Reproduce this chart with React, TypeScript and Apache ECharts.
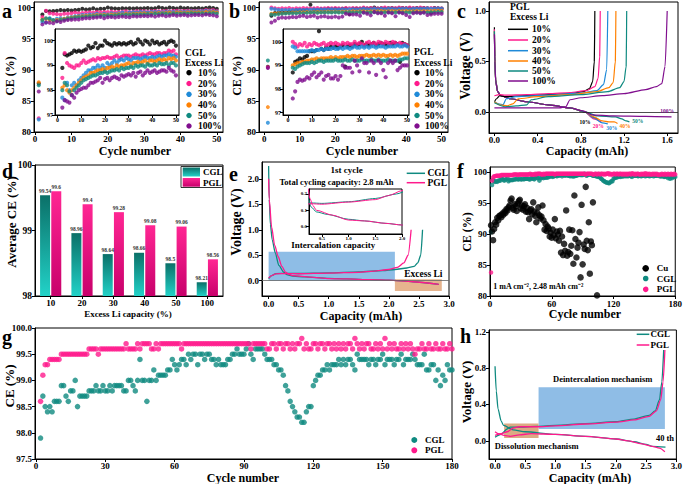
import React, { useEffect, useRef } from "react";
import * as echarts from "echarts";

const FONT = '"Liberation Serif","Times New Roman",serif';
const C_BLACK = "#000000";
const C_PINK = "#ff1a8c";
const C_BLUE = "#1f8ad8";
const C_ORANGE = "#ff8000";
const C_TEAL = "#0f8a80";
const C_PURPLE = "#800e8e";

const excessLabels = ["10%", "20%", "30%", "40%", "50%", "100%"];
const excessColors = [C_BLACK, C_PINK, C_BLUE, C_ORANGE, C_TEAL, C_PURPLE];

// ---------- panel a : CGL, CE (%) for cycles 1..50 ----------
const a10 = [87.8, 98.9, 99.45, 99.4, 99.45, 99.5, 99.6, 99.55, 99.6, 99.55, 99.6, 99.65, 99.8, 99.7, 99.75, 99.9, 99.7, 99.8, 99.8, 100.0, 99.9, 99.85, 99.8, 99.9, 99.85, 99.9, 99.85, 99.9, 99.85, 99.9, 99.95, 99.85, 99.9, 100.05, 99.95, 99.85, 100.0, 99.95, 99.85, 100.0, 99.9, 99.95, 99.85, 99.9, 99.95, 99.85, 99.95, 100.0, 99.95, 99.8];
const a20 = [82.2, 98.5, 99.5, 99.1, 99.0, 98.95, 98.9, 99.0, 99.0, 99.1, 99.2, 99.1, 99.15, 99.2, 99.25, 99.2, 99.3, 99.25, 99.3, 99.3, 99.35, 99.3, 99.3, 99.35, 99.4, 99.3, 99.35, 99.4, 99.4, 99.4, 99.35, 99.4, 99.45, 99.4, 99.4, 99.45, 99.4, 99.45, 99.5, 99.45, 99.45, 99.5, 99.5, 99.45, 99.5, 99.5, 99.6, 99.55, 99.6, 99.45];
const a30 = [82.0, 97.7, 97.6, 98.3, 98.0, 98.2, 98.3, 98.2, 98.4, 98.5, 98.6, 98.7, 98.8, 98.8, 98.9, 98.9, 99.0, 98.9, 99.0, 98.9, 99.1, 99.0, 99.1, 99.2, 99.1, 99.2, 99.25, 99.2, 99.3, 99.25, 99.2, 99.3, 99.3, 99.3, 99.25, 99.3, 99.35, 99.3, 99.3, 99.35, 99.3, 99.35, 99.4, 99.35, 99.4, 99.4, 99.45, 99.4, 99.4, 99.35];
const a40 = [88.0, 98.1, 98.2, 98.0, 97.9, 98.0, 98.1, 98.2, 98.3, 98.4, 98.5, 98.55, 98.6, 98.7, 98.7, 98.75, 98.8, 98.8, 98.85, 98.8, 98.9, 98.9, 98.95, 98.9, 99.0, 98.95, 99.0, 99.0, 99.05, 99.1, 99.0, 99.1, 99.1, 99.15, 99.1, 99.15, 99.2, 99.1, 99.2, 99.2, 99.15, 99.2, 99.25, 99.2, 99.25, 99.2, 99.3, 99.25, 99.3, 99.2];
const a50 = [87.5, 98.0, 98.3, 98.2, 97.95, 97.8, 98.0, 98.1, 98.2, 98.3, 98.4, 98.45, 98.5, 98.55, 98.6, 98.6, 98.65, 98.7, 98.7, 98.75, 98.7, 98.75, 98.8, 98.8, 98.85, 98.8, 98.9, 98.85, 98.9, 98.9, 98.95, 98.9, 99.0, 98.95, 99.0, 99.0, 98.95, 99.05, 99.0, 99.0, 99.05, 99.0, 99.1, 99.05, 99.05, 99.1, 99.0, 99.1, 99.1, 99.0];
const a100 = [86.5, 97.3, 97.6, 97.55, 97.5, 97.8, 97.7, 97.9, 98.0, 98.05, 98.1, 98.1, 98.2, 98.3, 98.3, 98.35, 98.4, 98.5, 98.3, 98.45, 98.5, 98.4, 98.5, 98.55, 98.5, 98.45, 98.6, 98.55, 98.6, 98.65, 98.6, 98.7, 98.55, 98.7, 98.75, 98.6, 98.7, 98.8, 98.7, 98.75, 98.8, 98.7, 98.75, 98.8, 98.8, 98.75, 98.9, 98.8, 98.75, 98.6];

// ---------- panel b : PGL, CE (%) for cycles 1..50 ----------
const b10 = [90.5, 98.7, 99.15, 99.2, 99.3, 99.25, 99.35, 99.4, 99.6, 99.6, 99.6, 99.65, 100.45, 99.7, 99.65, 99.75, 99.7, 99.8, 99.75, 99.8, 99.75, 99.8, 99.85, 98.95, 99.8, 99.85, 99.8, 99.9, 99.85, 99.9, 100.0, 99.85, 99.9, 99.85, 99.9, 99.95, 99.85, 99.9, 99.95, 99.9, 99.9, 99.85, 99.95, 99.9, 99.95, 99.9, 99.15, 99.95, 99.9, 99.85];
const b20 = [90.4, 100.0, 99.9, 99.8, 99.9, 99.85, 99.95, 99.8, 99.9, 99.85, 99.95, 99.9, 99.85, 99.9, 99.95, 99.85, 99.9, 99.95, 99.9, 99.95, 99.9, 99.85, 99.95, 99.9, 99.95, 99.9, 99.9, 100.0, 99.9, 99.95, 99.9, 99.85, 99.95, 100.0, 99.9, 99.95, 99.9, 100.0, 99.95, 99.9, 100.0, 99.95, 99.9, 100.0, 99.95, 99.9, 99.95, 99.9, 99.9, 99.85];
const b30 = [81.5, 99.8, 99.75, 99.6, 99.6, 99.6, 99.6, 99.6, 99.6, 99.65, 99.6, 99.65, 99.65, 99.7, 99.65, 99.7, 99.7, 99.7, 99.75, 99.7, 99.7, 99.75, 99.7, 99.75, 99.75, 99.7, 99.75, 99.8, 99.75, 99.75, 99.8, 99.75, 99.8, 99.75, 99.8, 99.8, 99.75, 99.8, 99.8, 99.8, 99.75, 99.8, 99.8, 99.8, 99.8, 99.85, 99.8, 99.8, 99.85, 99.8];
const b40 = [84.0, 99.0, 99.05, 99.1, 99.1, 99.15, 99.15, 99.2, 99.2, 99.25, 99.25, 99.3, 99.25, 99.3, 99.3, 99.3, 99.3, 99.35, 99.3, 99.35, 99.3, 99.35, 99.35, 99.35, 99.4, 99.35, 99.4, 99.4, 99.35, 99.4, 99.4, 99.4, 99.45, 99.4, 99.4, 99.45, 99.4, 99.45, 99.4, 99.45, 99.4, 99.4, 99.45, 99.4, 99.45, 99.4, 99.45, 99.5, 99.5, 99.5];
const b50 = [91.5, 98.9, 98.85, 98.95, 99.0, 99.05, 99.1, 99.1, 99.1, 99.15, 99.1, 99.15, 99.2, 99.2, 99.15, 99.2, 99.2, 99.2, 99.2, 99.25, 99.2, 99.2, 99.2, 99.25, 99.2, 99.2, 99.25, 99.2, 99.2, 99.2, 99.25, 99.2, 99.2, 99.2, 99.25, 99.2, 99.2, 99.25, 99.2, 99.2, 99.2, 99.25, 99.2, 99.2, 99.2, 99.2, 99.25, 99.25, 99.3, 99.3];
const b100 = [90.3, 97.6, 97.9, 98.3, 98.4, 98.35, 98.4, 98.5, 98.45, 98.6, 98.7, 98.5, 98.6, 98.7, 98.4, 98.55, 98.6, 98.45, 98.45, 98.55, 98.4, 98.55, 99.0, 98.9, 98.9, 98.9, 98.7, 99.2, 99.0, 98.75, 99.3, 99.1, 99.1, 98.7, 99.2, 99.1, 98.6, 99.2, 99.1, 98.8, 98.5, 99.1, 99.2, 99.1, 99.2, 98.8, 98.9, 99.0, 99.0, 99.0];

// ---------- panel c : PGL first cycle voltage profiles [capacity mAh, V] ----------
const c10Charge = [[0, 0.1], [0.02, 0.13], [0.05, 0.16], [0.1, 0.15], [0.3, 0.16], [0.5, 0.17], [0.7, 0.18], [0.82, 0.2], [0.88, 0.23], [0.91, 0.3], [0.925, 0.5], [0.93, 1.0]];
const c20Charge = [[0, 0.16], [0.05, 0.17], [0.1, 0.165], [0.3, 0.17], [0.5, 0.18], [0.7, 0.19], [0.85, 0.21], [0.93, 0.25], [0.96, 0.33], [0.975, 0.55], [0.98, 1.0]];
const c30Charge = [[0, 0.1], [0.04, 0.08], [0.08, 0.07], [0.11, 0.13], [0.2, 0.15], [0.5, 0.165], [0.8, 0.185], [0.95, 0.21], [1.01, 0.27], [1.04, 0.42], [1.05, 1.0]];
const c40Charge = [[0, 0.1], [0.05, 0.07], [0.12, 0.06], [0.17, 0.08], [0.22, 0.13], [0.4, 0.15], [0.7, 0.17], [0.95, 0.2], [1.06, 0.24], [1.1, 0.29], [1.12, 0.5], [1.125, 1.0]];
const c50Charge = [[0, 0.09], [0.1, 0.05], [0.2, 0.06], [0.3, 0.07], [0.34, 0.12], [0.5, 0.15], [0.8, 0.17], [1.05, 0.2], [1.16, 0.24], [1.2, 0.3], [1.22, 0.45], [1.225, 1.0]];
const c100Charge = [[0, 0.04], [0.3, 0.04], [0.6, 0.04], [0.66, 0.05], [0.7, 0.12], [0.8, 0.14], [1.0, 0.16], [1.2, 0.18], [1.4, 0.22], [1.5, 0.25], [1.55, 0.28], [1.58, 0.45], [1.6, 1.0]];
const c10Dis = [[0, 0.84], [0.004, 0.55], [0.012, 0.32], [0.03, 0.2], [0.06, 0.16], [0.15, 0.13], [0.3, 0.1], [0.5, 0.07], [0.7, 0.04], [0.84, 0.0], [0.9, -0.05], [0.96, -0.075]];
const c20Dis = [[0, 0.82], [0.004, 0.52], [0.012, 0.3], [0.03, 0.2], [0.06, 0.16], [0.15, 0.13], [0.3, 0.1], [0.5, 0.07], [0.7, 0.04], [0.84, 0.0], [0.92, -0.07], [0.99, -0.1]];
const c30Dis = [[0, 0.8], [0.004, 0.5], [0.012, 0.3], [0.03, 0.2], [0.06, 0.16], [0.15, 0.13], [0.3, 0.1], [0.5, 0.07], [0.7, 0.04], [0.84, 0.0], [0.92, -0.06], [1.0, -0.11], [1.05, -0.12]];
const c40Dis = [[0, 0.8], [0.004, 0.5], [0.012, 0.3], [0.03, 0.2], [0.06, 0.16], [0.15, 0.13], [0.3, 0.1], [0.5, 0.07], [0.7, 0.04], [0.84, 0.0], [0.92, -0.05], [1.0, -0.09], [1.06, -0.1], [1.11, -0.1], [1.14, -0.115]];
const c50Dis = [[0, 0.8], [0.004, 0.5], [0.012, 0.3], [0.03, 0.2], [0.06, 0.16], [0.15, 0.13], [0.3, 0.1], [0.5, 0.07], [0.7, 0.04], [0.84, 0.0], [0.95, -0.04], [1.12, -0.05], [1.18, -0.07], [1.22, -0.09], [1.25, -0.1]];
const c100Dis = [[0, 0.77], [0.004, 0.5], [0.012, 0.3], [0.03, 0.2], [0.06, 0.16], [0.15, 0.13], [0.3, 0.1], [0.5, 0.07], [0.7, 0.04], [0.82, 0.01], [0.9, -0.03], [1.1, -0.04], [1.4, -0.045], [1.64, -0.05]];

// ---------- panel d : average CE ----------
const dCategories = ["10", "20", "30", "40", "50", "100"];
const dCGL = [99.54, 98.96, 98.64, 98.66, 98.5, 98.21];
const dPGL = [99.6, 99.4, 99.28, 99.08, 99.06, 98.56];

// ---------- panel e : 1st cycle profiles ----------
const eCGLDis = [[0, 2.25], [0.01, 1.6], [0.03, 1.1], [0.06, 0.8], [0.11, 0.55], [0.17, 0.3], [0.25, 0.17], [0.3, 0.12], [0.4, 0.09], [0.6, 0.075], [1.0, 0.045], [1.3, 0.035], [1.7, 0.02], [2.0, 0.01], [2.4, -0.02], [2.83, -0.07]];
const eCGLCharge = [[0, 0.04], [0.05, 0.1], [0.12, 0.14], [0.3, 0.145], [0.5, 0.142], [1.0, 0.152], [1.5, 0.172], [1.9, 0.2], [2.1, 0.22], [2.3, 0.25], [2.42, 0.28], [2.48, 0.35], [2.53, 0.5], [2.56, 1.0]];
const ePGLDis = [[0, 2.0], [0.01, 1.6], [0.05, 1.05], [0.1, 0.7], [0.16, 0.47], [0.22, 0.28], [0.28, 0.17], [0.33, 0.13], [0.4, 0.1], [0.7, 0.07], [1.0, 0.04], [1.3, 0.035], [1.7, 0.02], [2.0, 0.01], [2.4, -0.02], [2.83, -0.07]];
const ePGLCharge = [[0, 0.05], [0.05, 0.1], [0.12, 0.135], [0.3, 0.14], [0.5, 0.137], [1.0, 0.15], [1.5, 0.165], [1.75, 0.19], [2.0, 0.22], [2.14, 0.26], [2.25, 0.35], [2.32, 0.5], [2.37, 1.0]];

// ---------- panels f and g : CE (%) for cycles 1..180 ----------
const cuCE = [91.4, 90.4, 89.0, 90.8, 91.9, 91.5, 92.6, 92.2, 92.9, 93.0, 92.7, 93.3, 93.1, 93.6, 93.4, 94.0, 93.8, 94.3, 94.6, 95.4, 95.7, 94.2, 93.9, 94.8, 94.5, 93.7, 94.9, 95.3, 95.5, 94.1, 94.6, 93.9, 94.5, 94.8, 93.6, 94.2, 93.5, 92.4, 93.8, 94.0, 93.2, 95.1, 93.6, 92.9, 91.9, 93.4, 94.3, 93.0, 92.5, 92.8, 94.6, 92.2, 90.7, 91.6, 90.5, 91.2, 90.9, 89.6, 90.2, 89.4, 90.7, 89.8, 92.4, 89.3, 90.4, 89.9, 88.9, 90.5, 87.0, 89.6, 86.6, 88.4, 87.3, 93.8, 86.5, 87.1, 90.7, 86.8, 88.1, 90.6, 85.2, 96.2, 89.2, 86.2, 87.8, 88.6, 90.3, 83.0, 94.7, 85.1, 88.3, 87.6, 97.6, 88.9, 87.4, 91.9, 83.6, 88.8, 88.2, 95.1];
const cuLate = [[104, 80.1]];
const cglCE = [
  90.3, 97.9, 98.7, 98.5, 98.4, 98.5, 98.4, 98.6, 98.6, 98.6,
  98.9, 98.9, 98.7, 98.6, 98.8, 98.8, 99.0, 98.5, 98.7, 98.7,
  98.7, 98.7, 98.8, 98.8, 98.8, 98.9, 98.8, 98.8, 98.9, 98.8,
  98.8, 98.9, 98.8, 98.9, 98.9, 98.9, 98.9, 98.8, 98.8, 99.0,
  99.0, 98.9, 98.8, 99.0, 99.4, 99.0, 99.0, 98.6, 99.0, 99.0,
  99.2, 99.0, 99.1, 99.1, 99.1, 99.1, 99.2, 99.2, 99.4, 99.3,
  99.2, 99.3, 99.4, 99.4, 99.3, 99.5, 99.4, 99.5, 99.5, 99.3,
  99.5, 99.5, 99.4, 99.5, 99.5, 99.4, 99.4, 99.3, 99.4, 99.3,
  99.3, 99.3, 99.4, 99.4, 99.5, 99.5, 99.6, 99.5, 99.5, 99.5,
  99.6, 99.7, 99.5, 99.4, 99.6, 99.6, 99.6, 99.6, 99.5, 99.4,
  99.4, 99.4, 99.3, 99.3, 99.2, 99.2, 99.1, 98.9, 98.8, 98.6,
  98.5, 98.4, 98.3, 98.3, 98.2, 98.2, 98.4, 98.5, 98.5, 98.9,
  99.0, 99.1, 99.1, 99.2, 99.2, 99.3, 99.2, 99.3, 99.3, 99.3,
  99.4, 99.3, 99.4, 99.3, 99.4, 99.4, 99.3, 99.2, 99.5, 99.4,
  99.4, 99.4, 99.4, 99.3, 99.4, 99.4, 99.3, 99.4, 99.4, 99.5,
  99.3, 99.4, 99.4, 99.4, 99.3, 99.4, 99.4, 99.5, 99.3, 99.4,
  99.4, 99.4, 99.5, 99.4, 99.3, 99.3, 99.3, 99.5, 99.2, 99.2,
  99.3, 99.3, 99.0, 99.2, 98.9, 99.1, 99.0, 99.3, 99.2, 99.2,
];
const pglCE = [
  83.8, 98.6, 99.1, 99.3, 99.3, 99.4, 99.4, 99.4, 99.4, 99.4,
  99.5, 99.5, 99.5, 99.5, 99.5, 99.5, 99.5, 99.5, 99.5, 99.5,
  99.5, 99.5, 99.6, 99.6, 99.6, 99.6, 99.5, 99.6, 99.6, 99.6,
  99.6, 99.6, 99.6, 99.6, 99.6, 99.6, 99.6, 99.6, 99.7, 99.6,
  99.6, 99.6, 99.6, 99.7, 99.6, 99.7, 99.7, 99.7, 99.7, 99.6,
  99.6, 99.7, 99.6, 99.7, 99.7, 99.7, 99.7, 99.7, 99.7, 99.7,
  99.7, 99.7, 99.6, 99.7, 99.7, 99.7, 99.7, 99.7, 99.7, 99.7,
  99.7, 99.7, 99.7, 99.7, 99.7, 99.7, 99.7, 99.7, 99.7, 99.7,
  99.7, 99.7, 99.7, 99.7, 99.7, 99.7, 99.7, 99.7, 99.7, 99.7,
  99.7, 99.7, 99.6, 99.7, 99.7, 99.7, 99.7, 99.7, 99.7, 99.6,
  99.6, 99.7, 99.7, 99.6, 99.7, 99.7, 99.6, 99.7, 99.7, 99.6,
  99.7, 99.6, 99.7, 99.7, 99.8, 99.6, 99.7, 99.6, 99.6, 99.7,
  99.7, 99.6, 99.7, 99.7, 99.6, 99.7, 99.7, 99.6, 99.7, 99.6,
  99.7, 99.6, 99.7, 99.6, 99.7, 99.7, 99.6, 99.8, 99.7, 99.6,
  99.7, 99.6, 99.7, 99.7, 99.6, 99.6, 99.7, 99.6, 99.7, 99.6,
  99.8, 99.6, 99.7, 99.6, 99.7, 99.6, 99.6, 99.7, 99.6, 99.7,
  99.6, 99.7, 99.6, 99.5, 99.6, 99.6, 99.7, 99.6, 99.6, 99.7,
  99.6, 99.6, 99.7, 99.6, 99.6, 99.7, 99.6, 99.6, 99.7, 99.6,
];

// ---------- panel h : 40th cycle profiles ----------
const hCGLDis = [[0, 0.82], [0.02, 0.55], [0.05, 0.35], [0.1, 0.22], [0.14, 0.17], [0.3, 0.12], [0.5, 0.1], [1.0, 0.07], [1.5, 0.05], [2.0, 0.02], [2.3, -0.01], [2.5, -0.04], [2.6, -0.06], [2.82, -0.07]];
const hCGLCharge = [[0, 0.04], [0.1, 0.07], [0.2, 0.13], [0.25, 0.15], [0.35, 0.15], [0.7, 0.16], [1.0, 0.17], [1.5, 0.19], [2.0, 0.21], [2.3, 0.24], [2.55, 0.28], [2.65, 0.33], [2.72, 0.45], [2.76, 0.65], [2.79, 1.0]];
const hPGLDis = [[0, 0.1], [0.05, 0.08], [0.15, 0.06], [0.25, 0.05], [0.4, 0.065], [0.6, 0.08], [0.8, 0.075], [1.0, 0.07], [1.5, 0.05], [2.0, 0.02], [2.2, 0.0], [2.4, -0.03], [2.6, -0.06], [2.72, -0.08], [2.81, -0.12]];
const hPGLCharge = [[0, 0.06], [0.1, 0.08], [0.2, 0.1], [0.3, 0.14], [0.4, 0.155], [0.7, 0.155], [1.0, 0.165], [1.5, 0.185], [2.0, 0.205], [2.3, 0.23], [2.55, 0.27], [2.67, 0.33], [2.74, 0.45], [2.78, 0.65], [2.81, 1.0]];

// ---------- helpers ----------
function fmt(dec: number) {
  return (v: number) => Number(v).toFixed(dec);
}

function valueAxis(gridIndex: number, min: number, max: number, ticks: number[], dec: number, fs = 9, margin = 3) {
  return {
    type: "value",
    gridIndex,
    min,
    max,
    axisLine: { show: true, onZero: false, lineStyle: { color: "#000", width: 1 } },
    axisTick: { show: true, inside: false, length: 3, customValues: ticks, lineStyle: { color: "#000", width: 1 } },
    axisLabel: {
      show: true,
      customValues: ticks,
      formatter: fmt(dec),
      fontSize: fs,
      fontWeight: "bold",
      fontFamily: FONT,
      color: "#000",
      margin: fs < 8 ? 2 : margin,
    },
    splitLine: { show: false },
  };
}

function txt(x: number, y: number, text: string, size: number, opts: any = {}) {
  return {
    type: "text",
    x,
    y,
    rotation: opts.rotation || 0,
    silent: true,
    z: 100,
    style: {
      text,
      fontSize: size,
      fontWeight: "bold",
      fontFamily: FONT,
      fill: opts.color || "#000",
      align: opts.align || "center",
      verticalAlign: opts.valign || "middle",
    },
  };
}

function dot(cx: number, cy: number, r: number, color: string) {
  return { type: "circle", silent: true, z: 100, shape: { cx, cy, r }, style: { fill: color } };
}

function seg(x1: number, x2: number, y: number, color: string) {
  return { type: "line", silent: true, z: 100, shape: { x1, y1: y, x2, y2: y }, style: { stroke: color, lineWidth: 1.5 } };
}

function buildOption() {
  const gridBoxes = [
    { left: 34, top: 2, width: 189, height: 130 }, // 0 a
    { left: 55, top: 29, width: 124, height: 86 }, // 1 a inset
    { left: 259, top: 2, width: 189, height: 130 }, // 2 b
    { left: 283, top: 29, width: 126, height: 86 }, // 3 b inset
    { left: 489, top: 2, width: 189, height: 131 }, // 4 c
    { left: 35, top: 165, width: 188, height: 131 }, // 5 d
    { left: 262, top: 162, width: 187, height: 134 }, // 6 e
    { left: 309, top: 189, width: 93, height: 45 }, // 7 e inset
    { left: 490, top: 167, width: 188, height: 129 }, // 8 f
    { left: 35, top: 328, width: 417, height: 131 }, // 9 g
    { left: 489, top: 330, width: 189, height: 129 }, // 10 h
  ];
  const grid = gridBoxes.map((g) => ({ ...g, show: true, borderColor: "#000", borderWidth: 1, backgroundColor: "#fff" }));

  const cyc50 = [0, 10, 20, 30, 40, 50];
  const ce80 = [80, 85, 90, 95, 100];
  const ins = [97, 98, 99, 100];
  const cap3 = [0, 0.5, 1.0, 1.5, 2.0, 2.5, 3.0];

  const xAxis: any[] = [
    valueAxis(0, -0.3, 51.7, cyc50, 0, 9, 2),
    valueAxis(1, -1.1, 51.3, cyc50, 0, 6),
    valueAxis(2, -1.5, 51.8, cyc50, 0, 9, 2),
    valueAxis(3, -2.1, 50.8, cyc50, 0, 6),
    valueAxis(4, -0.05, 1.7, [0, 0.4, 0.8, 1.2, 1.6], 1, 9, 2),
    {
      type: "category",
      gridIndex: 5,
      data: dCategories,
      axisLine: { show: true, lineStyle: { color: "#000" } },
      axisTick: { show: true, alignWithLabel: true, length: 3, lineStyle: { color: "#000" } },
      axisLabel: { fontSize: 9, fontWeight: "bold", fontFamily: FONT, color: "#000", margin: 2 },
    },
    valueAxis(6, -0.11, 3.0, cap3, 1),
    valueAxis(7, 0.26, 2.0, [0.5, 1.0, 1.5, 2.0], 1, 5),
    valueAxis(8, 0, 180, [0, 60, 120, 180], 0),
    valueAxis(9, -0.4, 180, [0, 30, 60, 90, 120, 150, 180], 0, 9, 2),
    valueAxis(10, -0.1, 3.0, cap3, 1, 9, 2),
  ];
  const yAxis: any[] = [
    valueAxis(0, 80, 100.9, ce80, 0),
    valueAxis(1, 97, 100.47, ins, 0, 6),
    valueAxis(2, 80, 100.9, ce80, 0),
    valueAxis(3, 96.9, 100.54, ins, 0, 6),
    valueAxis(4, -0.21, 1.09, [0, 0.5, 1.0], 1),
    valueAxis(5, 98, 100, [98, 99, 100], 0, 9.5),
    valueAxis(6, -0.3, 2.33, [0, 0.5, 1.0, 1.5, 2.0], 1),
    valueAxis(7, -0.045, 0.23, [0, 0.1, 0.2], 1, 5),
    valueAxis(8, 80, 100.8, ce80, 0),
    valueAxis(9, 97.5, 100, [97.5, 98, 98.5, 99, 99.5, 100], 1),
    valueAxis(10, -0.2, 1.22, [0, 0.4, 0.8, 1.2], 1),
  ];

  const series: any[] = [];
  const scatter = (ax: number, data: any[], color: string, size: number, name?: string) =>
    series.push({ type: "scatter", name, xAxisIndex: ax, yAxisIndex: ax, data, symbol: "circle", symbolSize: size, itemStyle: { color }, silent: true, z: 3 });
  const curve = (ax: number, data: any[], color: string, width = 1.3, name?: string) =>
    series.push({
      type: "line", name, xAxisIndex: ax, yAxisIndex: ax, data, showSymbol: false, symbol: "none",
      smooth: 0.25, smoothMonotone: "x", lineStyle: { color, width }, itemStyle: { color }, silent: true, z: 3,
    });

  // a & b
  const aSets = [a10, a20, a30, a40, a50, a100];
  const bSets = [b10, b20, b30, b40, b50, b100];
  aSets.forEach((arr, i) => scatter(0, arr.map((v, k) => [k + 1, v]), excessColors[i], 4, "CGL " + excessLabels[i]));
  aSets.forEach((arr, i) => scatter(1, arr.slice(1).map((v, k) => [k + 2, v]), excessColors[i], 4.2));
  bSets.forEach((arr, i) => scatter(2, arr.map((v, k) => [k + 1, v]), excessColors[i], 4, "PGL " + excessLabels[i]));
  bSets.forEach((arr, i) => scatter(3, arr.slice(1).map((v, k) => [k + 2, v]), excessColors[i], 4.2));

  // c
  series.push({
    type: "line", xAxisIndex: 4, yAxisIndex: 4, data: [], z: 1, silent: true,
    markLine: { symbol: "none", silent: true, label: { show: false }, lineStyle: { color: "#222", width: 0.8, type: "solid" }, data: [{ yAxis: 0 }] },
  });
  const cCharge = [c10Charge, c20Charge, c30Charge, c40Charge, c50Charge, c100Charge];
  const cDis = [c10Dis, c20Dis, c30Dis, c40Dis, c50Dis, c100Dis];
  cDis.forEach((d, i) => curve(4, d, excessColors[i], 1.2));
  cCharge.forEach((d, i) => curve(4, d, excessColors[i], 1.2));

  // d
  const cglGrad = new echarts.graphic.LinearGradient(0, 0, 0, 1, [
    { offset: 0, color: "#0b7068" },
    { offset: 1, color: "#22d2c8" },
  ]);
  const pglGrad = new echarts.graphic.LinearGradient(0, 0, 0, 1, [
    { offset: 0, color: "#ff2693" },
    { offset: 1, color: "#c8006b" },
  ]);
  const barLabel = { show: true, position: "top", distance: 1.5, fontSize: 5.5, fontWeight: "bold", fontFamily: FONT, color: "#333" };
  series.push({ type: "bar", name: "CGL", xAxisIndex: 5, yAxisIndex: 5, data: dCGL, barWidth: 10, barGap: "12%", itemStyle: { color: cglGrad }, label: barLabel, silent: true });
  series.push({ type: "bar", name: "PGL", xAxisIndex: 5, yAxisIndex: 5, data: dPGL, barWidth: 10, barGap: "12%", itemStyle: { color: pglGrad }, label: barLabel, silent: true });

  // e
  series.push({
    type: "line", xAxisIndex: 6, yAxisIndex: 6, data: [], z: 1, silent: true,
    markArea: {
      silent: true,
      itemStyle: { color: "#8ebde6" },
      data: [
        [{ coord: [0, 0] }, { coord: [2.1, 0.57] }],
        [{ coord: [2.1, 0.03], itemStyle: { color: "#e6b48e" } }, { coord: [2.88, -0.2] }],
      ],
    },
    markLine: { symbol: "none", silent: true, label: { show: false }, lineStyle: { color: "#666", width: 0.8, type: "solid" }, data: [{ yAxis: 0 }] },
  });
  curve(6, eCGLDis, C_TEAL, 1.3, "CGL");
  curve(6, eCGLCharge, C_TEAL, 1.3);
  curve(6, ePGLDis, C_PINK, 1.3, "PGL");
  curve(6, ePGLCharge, C_PINK, 1.3);
  curve(7, eCGLDis, C_TEAL, 1);
  curve(7, eCGLCharge, C_TEAL, 1);
  curve(7, ePGLDis, C_PINK, 1);
  curve(7, ePGLCharge, C_PINK, 1);

  // f
  scatter(8, cglCE.map((v, k) => [k + 1, v]), C_TEAL, 4.5, "CGL");
  scatter(8, pglCE.map((v, k) => [k + 1, v]), C_PINK, 4.5, "PGL");
  scatter(8, cuCE.map((v, k) => [k + 1, v]).concat(cuLate), C_BLACK, 6.5, "Cu");

  // g
  scatter(9, cglCE.map((v, k) => [k + 1, v]).filter((p) => p[1] >= 97.5), C_TEAL, 5.5, "CGL");
  scatter(9, pglCE.map((v, k) => [k + 1, v]).filter((p) => p[1] >= 97.5), C_PINK, 5.5, "PGL");

  // h
  series.push({
    type: "line", xAxisIndex: 10, yAxisIndex: 10, data: [], z: 1, silent: true,
    markArea: {
      silent: true,
      itemStyle: { color: "#8fbde6" },
      data: [
        [{ coord: [0.72, 0.13] }, { coord: [2.81, 0.59] }],
        [{ coord: [0.15, 0.03], itemStyle: { color: "#dcaa84" } }, { coord: [0.72, 0.19] }],
      ],
    },
  });
  curve(10, hCGLDis, C_TEAL, 1.3, "CGL");
  curve(10, hCGLCharge, C_TEAL, 1.3);
  curve(10, hPGLDis, C_PINK, 1.3, "PGL");
  curve(10, hPGLCharge, C_PINK, 1.3);

  // ---------- graphic: panel letters, titles, legends, annotations ----------
  const g: any[] = [];
  [["a", 2, 11], ["b", 229, 11], ["c", 457, 11], ["d", 2, 171], ["e", 229, 174], ["f", 457, 171], ["g", 2, 337], ["h", 460, 336]].forEach(
    ([t, x, y]: any) => g.push(txt(x, y, t, 20, { align: "left" }))
  );
  const R = Math.PI / 2;
  g.push(txt(10, 76, "CE (%)", 12, { rotation: R }));
  g.push(txt(135, 151, "Cycle number", 12));
  g.push(txt(237, 76, "CE (%)", 12, { rotation: R }));
  g.push(txt(362, 151, "Cycle number", 12));
  g.push(txt(465, 66, "Voltage (V)", 14, { rotation: R }));
  g.push(txt(587, 151, "Capacity (mAh)", 12));
  g.push(txt(11, 222, "Average CE (%)", 13, { rotation: R }));
  g.push(txt(128, 314, "Excess Li capacity (%)", 9));
  g.push(txt(236, 222, "Voltage (V)", 14, { rotation: R }));
  g.push(txt(361, 316, "Capacity (mAh)", 12));
  g.push(txt(467, 232, "CE (%)", 12, { rotation: R }));
  g.push(txt(585, 314, "Cycle number", 12));
  g.push(txt(9, 386, "CE (%)", 13, { rotation: R }));
  g.push(txt(243, 477.5, "Cycle number", 12));
  g.push(txt(466, 392, "Voltage (V)", 13, { rotation: R }));
  g.push(txt(590, 477.5, "Capacity (mAh)", 12));

  // legends a, b
  const legYs = [72.7, 83.5, 94.3, 105, 115.5, 126];
  g.push(txt(185, 52.5, "CGL", 9.5, { align: "left" }));
  g.push(txt(185, 62.5, "Excess Li", 9.5, { align: "left" }));
  g.push(txt(414, 52, "PGL", 9.5, { align: "left" }));
  g.push(txt(414, 62.5, "Excess Li", 9.5, { align: "left" }));
  excessLabels.forEach((l, i) => {
    g.push(dot(189, legYs[i], 2.7, excessColors[i]));
    g.push(txt(198, legYs[i], l, 9.5, { align: "left" }));
    g.push(dot(417, legYs[i], 2.7, excessColors[i]));
    g.push(txt(425, legYs[i], l, 9.5, { align: "left" }));
  });
  // legend c
  const cLegYs = [29.3, 40, 50.7, 61, 71, 81];
  g.push(txt(510, 6.7, "PGL", 9.5, { align: "left" }));
  g.push(txt(510, 17, "Excess Li", 9.5, { align: "left" }));
  excessLabels.forEach((l, i) => {
    g.push(seg(508, 528, cLegYs[i], excessColors[i]));
    g.push(txt(532, cLegYs[i], l, 9.5, { align: "left" }));
  });
  // curve annotations c
  const cAnn = [[585, 121.7], [598.3, 125.7], [611.7, 128.3], [625, 126], [637.7, 121], [667, 111]];
  excessLabels.forEach((l, i) => g.push(txt(cAnn[i][0], cAnn[i][1], l, 5.5, { color: excessColors[i] })));
  // legend d
  g.push({ type: "rect", silent: true, z: 100, shape: { x: 181, y: 166.5, width: 41.5, height: 21 }, style: { fill: "#fff", stroke: "#000", lineWidth: 0.8 } });
  g.push({ type: "rect", silent: true, z: 101, shape: { x: 182.7, y: 167.5, width: 17.3, height: 9 }, style: { fill: cglGrad } });
  g.push({ type: "rect", silent: true, z: 101, shape: { x: 182.7, y: 178, width: 17.3, height: 8.7 }, style: { fill: pglGrad } });
  g.push(txt(203, 172.2, "CGL", 9, { align: "left" }));
  g.push(txt(203, 182.5, "PGL", 9, { align: "left" }));
  // legend e + texts
  g.push(seg(406.7, 425, 173.3, C_TEAL));
  g.push(txt(427.5, 173.3, "CGL", 9.5, { align: "left" }));
  g.push(seg(406.7, 425, 182.7, C_PINK));
  g.push(txt(427.5, 182.7, "PGL", 9.5, { align: "left" }));
  g.push(txt(346.7, 170, "1st cycle", 9));
  g.push(txt(336.5, 181.7, "Total cycling capacity: 2.8 mAh", 8.5));
  g.push(txt(333.3, 245, "Intercalation capacity", 9));
  g.push(txt(423.3, 274.3, "Excess Li", 9.5));
  // legend f
  [["Cu", C_BLACK, 268.3, 3.3], ["CGL", C_TEAL, 278.5, 2.8], ["PGL", C_PINK, 289.3, 2.8]].forEach(([l, c, y, r]: any) => {
    g.push(dot(645.7, y, r, c));
    g.push(txt(656.7, y, l, 9, { align: "left" }));
  });
  g.push(txt(493.3, 286.7, "1 mA cm⁻², 2.48 mAh cm⁻²", 8, { align: "left" }));
  // legend g
  g.push(dot(414.3, 440, 3, C_TEAL));
  g.push(txt(425, 440, "CGL", 9, { align: "left" }));
  g.push(dot(414.3, 450.3, 3, C_PINK));
  g.push(txt(425, 450.3, "PGL", 9, { align: "left" }));
  // legend h + texts
  g.push(seg(636.7, 649.3, 334.3, C_TEAL));
  g.push(txt(650.5, 334.3, "CGL", 9, { align: "left" }));
  g.push(seg(636.7, 649.3, 345, C_PINK));
  g.push(txt(650.5, 345, "PGL", 9, { align: "left" }));
  g.push(txt(602.7, 379, "Deintercalation mechanism", 8.5));
  g.push(txt(536.7, 445.7, "Dissolution mechanism", 8.5));
  g.push(txt(665, 437.7, "40 th", 8.5));

  return {
    animation: false,
    backgroundColor: "#ffffff",
    textStyle: { fontFamily: FONT },
    grid,
    xAxis,
    yAxis,
    series,
    graphic: { elements: g },
  };
}

export default function App() {
  const ref = useRef<HTMLDivElement>(null);
  useEffect(() => {
    document.body.style.margin = "0";
    const chart = echarts.init(ref.current as HTMLDivElement, null, { renderer: "svg" });
    chart.setOption(buildOption() as any);
    return () => chart.dispose();
  }, []);
  return <div ref={ref} style={{ width: 685, height: 484 }} />;
}
